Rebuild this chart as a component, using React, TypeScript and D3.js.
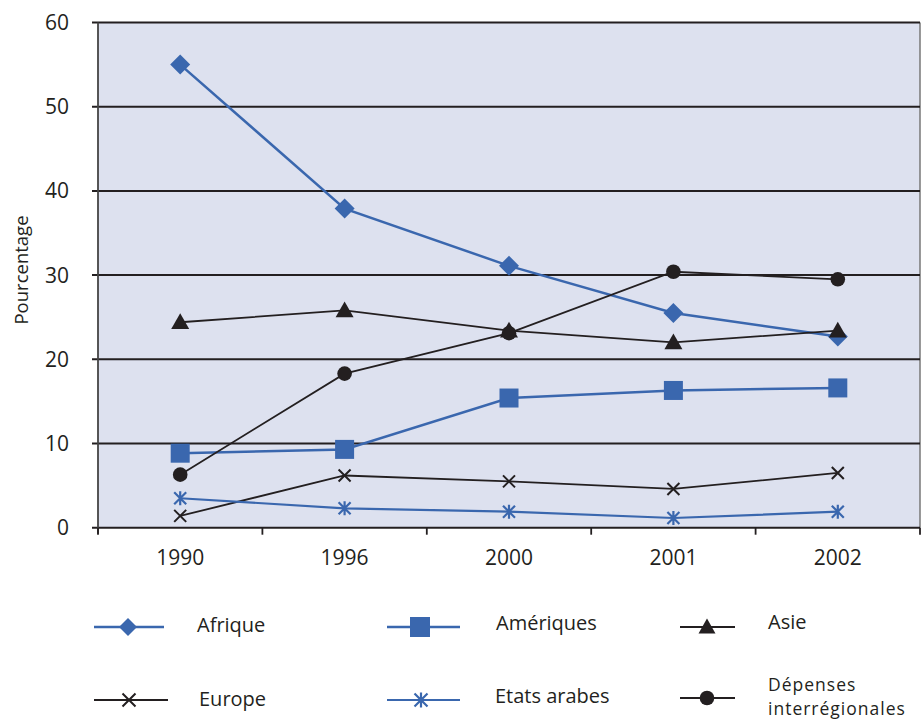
import React from "react";
import * as d3 from "d3";

const years = ["1990", "1996", "2000", "2001", "2002"];
const afrique = [55.0, 37.9, 31.1, 25.5, 22.7];
const ameriques = [8.85, 9.3, 15.4, 16.3, 16.6];
const asie = [24.4, 25.8, 23.4, 22.0, 23.4];
const europe = [1.4, 6.2, 5.5, 4.6, 6.5];
const etatsArabes = [3.5, 2.3, 1.9, 1.15, 1.9];
const depenses = [6.3, 18.3, 23.1, 30.4, 29.5];
const yTicks = [0, 10, 20, 30, 40, 50, 60];

const BLUE = "#3a67ae";
const BLACK = "#231f20";
const FONT = "'Open Sans', 'Liberation Sans', sans-serif";

type Marker = "diamond" | "square" | "triangle" | "x" | "asterisk" | "circle";
const series: { name: string[]; values: number[]; color: string; marker: Marker; width: number }[] = [
  { name: ["Afrique"], values: afrique, color: BLUE, marker: "diamond", width: 2.5 },
  { name: ["Amériques"], values: ameriques, color: BLUE, marker: "square", width: 2.5 },
  { name: ["Asie"], values: asie, color: BLACK, marker: "triangle", width: 1.8 },
  { name: ["Europe"], values: europe, color: BLACK, marker: "x", width: 1.8 },
  { name: ["Etats arabes"], values: etatsArabes, color: BLUE, marker: "asterisk", width: 2.2 },
  { name: ["Dépenses", "interrégionales"], values: depenses, color: BLACK, marker: "circle", width: 1.8 },
];

function MarkerShape({ type, x, y, color, legend }: { type: Marker; x: number; y: number; color: string; legend?: boolean }) {
  switch (type) {
    case "diamond": {
      const r = legend ? 9 : 10;
      return <path d={`M${x},${y - r}L${x + r},${y}L${x},${y + r}L${x - r},${y}Z`} fill={color} />;
    }
    case "square": {
      const s = legend ? 20 : 19;
      return <rect x={x - s / 2} y={y - s / 2} width={s} height={s} fill={color} />;
    }
    case "triangle": {
      const r = legend ? 8.5 : 9;
      return <path d={`M${x},${y - r}L${x + r},${y + r * 0.75}L${x - r},${y + r * 0.75}Z`} fill={color} />;
    }
    case "circle":
      return <circle cx={x} cy={y} r={7.3} fill={color} />;
    case "x": {
      const r = legend ? 6.5 : 6;
      return (
        <path d={`M${x - r},${y - r}L${x + r},${y + r}M${x - r},${y + r}L${x + r},${y - r}`} stroke={color} strokeWidth={2} />
      );
    }
    case "asterisk": {
      const r = legend ? 6.5 : 6;
      return (
        <path
          d={`M${x - r},${y - r}L${x + r},${y + r}M${x - r},${y + r}L${x + r},${y - r}M${x},${y - r - 1}L${x},${y + r + 1}`}
          stroke={color}
          strokeWidth={2.2}
        />
      );
    }
  }
}

export default function App() {
  const W = 922, H = 721;
  const left = 98, right = 920, top = 22.5, bottom = 527.7;
  const x = d3.scaleBand<string>().domain(years).range([left, right]);
  const y = d3.scaleLinear().domain([0, 60]).range([bottom, top]);
  const cx = (d: string) => (x(d) ?? 0) + x.bandwidth() / 2;
  const line = d3.line<number>().x((_, i) => cx(years[i])).y((v) => y(v));
  const boundaries = years.map((d) => x(d) as number).concat([right]);

  const legendPos = [
    { lx: 94, lx2: 164, mx: 128, tx: 197, ly: 627, tb: [632], fs: 20, ls: 0 },
    { lx: 387, lx2: 460, mx: 420, tx: 496, ly: 627, tb: [630], fs: 20, ls: 0 },
    { lx: 680, lx2: 735, mx: 707, tx: 768, ly: 627, tb: [628.5], fs: 20, ls: 0 },
    { lx: 94, lx2: 168, mx: 129, tx: 199, ly: 700, tb: [706], fs: 20, ls: 0 },
    { lx: 387, lx2: 460, mx: 421, tx: 495, ly: 700, tb: [703], fs: 20, ls: 0 },
    { lx: 680, lx2: 735, mx: 707, tx: 768, ly: 698, tb: [691, 715], fs: 17.5, ls: 1 },
  ];

  return (
    <svg width={W} height={H} style={{ position: "absolute", left: 0, top: 0 }} fontFamily={FONT}>
      <rect x={left} y={top} width={right - left} height={bottom - top} fill="#dde1ef" />
      <line x1={right} x2={right} y1={top} y2={bottom} stroke="#777" strokeWidth={1.5} />
      {yTicks.map((t) => (
        <g key={t}>
          <line x1={left - 6} x2={right} y1={y(t)} y2={y(t)} stroke={BLACK} strokeWidth={2} />
          <text x={left - 29} y={y(t) + 7.5} textAnchor="end" fontSize={21} fill={BLACK}>
            {t}
          </text>
        </g>
      ))}
      <line x1={left} x2={left} y1={top} y2={bottom + 6} stroke="#444" strokeWidth={1.8} />
      {boundaries.map((b, i) => (
        <line key={i} x1={b} x2={b} y1={bottom} y2={bottom + 7} stroke={BLACK} strokeWidth={1.8} />
      ))}
      {years.map((d) => (
        <text key={d} x={cx(d)} y={565} textAnchor="middle" fontSize={21} fill={BLACK}>
          {d}
        </text>
      ))}
      <text transform={`translate(28,${270}) rotate(-90)`} textAnchor="middle" fontSize={18.5} fill={BLACK}>
        Pourcentage
      </text>
      {series.map((s, si) => (
        <g key={si}>
          <path d={line(s.values) ?? ""} fill="none" stroke={s.color} strokeWidth={s.width} />
          {s.values.map((v, i) => (
            <MarkerShape key={i} type={s.marker} x={cx(years[i])} y={y(v)} color={s.color} />
          ))}
        </g>
      ))}
      {series.map((s, si) => {
        const p = legendPos[si];
        return (
          <g key={"l" + si}>
            <line x1={p.lx} x2={p.lx2} y1={p.ly} y2={p.ly} stroke={s.color} strokeWidth={s.width} />
            <MarkerShape type={s.marker} x={p.mx} y={p.ly} color={s.color} legend />
            {s.name.map((n, k) => (
              <text key={k} x={p.tx} y={p.tb[k]} fontSize={p.fs} letterSpacing={p.ls} fill={BLACK}>
                {n}
              </text>
            ))}
          </g>
        );
      })}
    </svg>
  );
}
